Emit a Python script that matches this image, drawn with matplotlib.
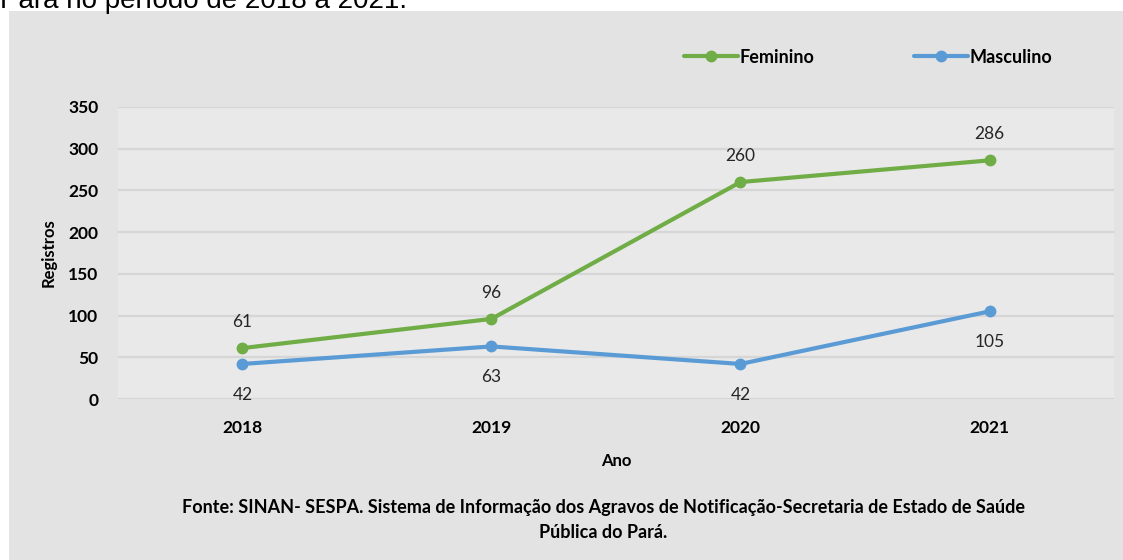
import matplotlib.pyplot as plt
from matplotlib.patches import Rectangle

# dados
anos = ["2018", "2019", "2020", "2021"]
feminino = [61, 96, 260, 286]
masculino = [42, 63, 42, 105]
yticks = [0, 50, 100, 150, 200, 250, 300, 350]

VERDE = "#70AD47"
AZUL = "#5B9BD5"
FONTE = ["Lato", "DejaVu Sans"]

fig = plt.figure(figsize=(11.23, 5.6), dpi=100)
fig.patch.set_facecolor("white")

# painel cinza de fundo
fig.patches.append(Rectangle((0.008, 0), 0.992, 0.980, transform=fig.transFigure,
                             facecolor="#E3E3E3", edgecolor="none", zorder=-10))

# linha de título cortada no topo
fig.text(0.0, 1 - 8 / 560, "Pará no período de 2018 a 2021.", fontsize=20,
         family="Liberation Sans", va="baseline", ha="left", color="black")

ax = fig.add_axes([0.105, 0.2875, 0.887, 0.5215])
ax.set_facecolor("#E9E9E9")
x = range(len(anos))

ax.plot(x, feminino, color=VERDE, lw=3, marker="o", ms=7.5, label="Feminino",
        solid_capstyle="round", zorder=3)
ax.plot(x, masculino, color=AZUL, lw=3, marker="o", ms=7.5, label="Masculino",
        solid_capstyle="round", zorder=3)

for i, v in enumerate(feminino):
    ax.annotate(str(v), (i, v), xytext=(0, 19), textcoords="offset points",
                ha="center", va="center", fontsize=12.5, family=FONTE, color="#262626")
for i, v in enumerate(masculino):
    ax.annotate(str(v), (i, v), xytext=(0, -22), textcoords="offset points",
                ha="center", va="center", fontsize=12.5, family=FONTE, color="#262626")

ax.set_xlim(-0.5, len(anos) - 0.5)
ax.set_ylim(0, 350)
ax.set_xticks(list(x))
ax.set_xticklabels(anos, fontsize=12.5, fontweight="bold", family=FONTE)
ax.set_yticks(yticks)
ax.set_yticklabels([str(t) for t in yticks], fontsize=12.5, fontweight="bold", family=FONTE)
ax.tick_params(length=0)
ax.tick_params(axis="y", pad=14)
ax.tick_params(axis="x", pad=15)
ax.grid(axis="y", color="#D6D6D6", lw=1.6, zorder=1)
ax.set_axisbelow(True)
for s in ax.spines.values():
    s.set_visible(False)

ax.set_ylabel("Registros", fontsize=12, fontweight="bold", family=FONTE, labelpad=8)
ax.set_xlabel("Ano", fontsize=12, fontweight="bold", family=FONTE, labelpad=12)

leg = fig.legend(loc="center", bbox_to_anchor=(0.773, 0.898), ncol=2, frameon=False,
                 handlelength=3.0, handletextpad=0.1, columnspacing=5.5,
                 prop={"family": FONTE, "weight": "bold", "size": 13})

fig.text(0.537, 1 - 508 / 560,
         "Fonte: SINAN- SESPA. Sistema de Informação dos Agravos de Notificação-Secretaria de Estado de Saúde",
         ha="center", va="center", fontsize=13, fontweight="bold", family=FONTE)
fig.text(0.537, 1 - 532 / 560, "Pública do Pará.",
         ha="center", va="center", fontsize=13, fontweight="bold", family=FONTE)

fig.savefig("out.png", dpi=100)
